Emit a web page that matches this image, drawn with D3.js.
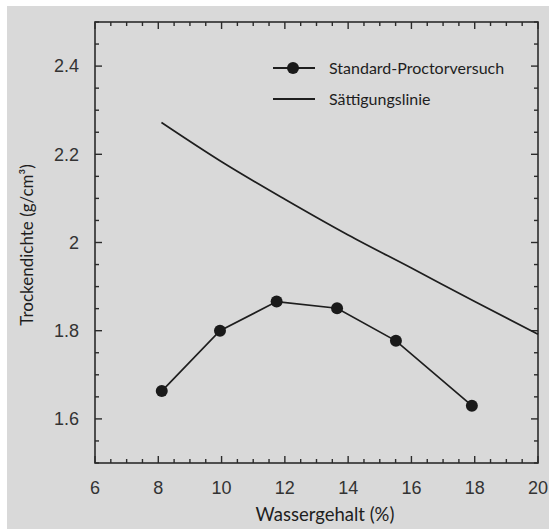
<!DOCTYPE html>
<html>
<head>
<meta charset="utf-8">
<script src="https://cdn.jsdelivr.net/npm/d3@7"></script>
<style>
  body { margin: 0; background: #fff; }
  svg { display: block; }
</style>
</head>
<body>
<div class="chart"></div>
<script>
// Standard-Proctorversuch (Wassergehalt %, Trockendichte g/cm3)
const proctorW = [8.11, 9.95, 11.74, 13.65, 15.51, 17.91];
const proctorRho = [1.663, 1.800, 1.866, 1.851, 1.777, 1.630];

// Sättigungslinie
const satW = [8.1, 10, 12, 14, 16, 18, 20];
const satRho = [2.272, 2.183, 2.098, 2.017, 1.942, 1.866, 1.792];

const xTicks = [6, 8, 10, 12, 14, 16, 18, 20];
const yTicks = [1.6, 1.8, 2, 2.2, 2.4];

const W = 549, H = 529;
const margin = {top: 22, left: 95, right: 11, bottom: 66};

const svg = d3.select('.chart').append('svg')
  .attr('width', W).attr('height', H);

// grey panel with the thin white strip at top and left
svg.append('rect')
  .attr('x', 7).attr('y', 6)
  .attr('width', W - 7).attr('height', H - 6)
  .attr('fill', '#d9d9d9');

const x = d3.scaleLinear().domain([6, 20]).range([margin.left, W - margin.right]);
const y = d3.scaleLinear().domain([1.5, 2.5]).range([H - margin.bottom, margin.top]);

const ink = '#2b2b2b';

// minor + major ticks, all inward
const xMinor = d3.range(6, 20.01, 0.5);
const yMinor = d3.range(1.5, 2.501, 0.05);
const isMajorX = v => Math.abs(v / 2 - Math.round(v / 2)) < 1e-6;
const isMajorY = v => Math.abs(v * 5 - Math.round(v * 5)) < 1e-6;

const tickG = svg.append('g').attr('stroke', ink).attr('stroke-width', 1.4);
xMinor.forEach(v => {
  const len = isMajorX(v) ? 7 : 4;
  tickG.append('line').attr('x1', x(v)).attr('x2', x(v))
    .attr('y1', y(1.5)).attr('y2', y(1.5) - len);
  tickG.append('line').attr('x1', x(v)).attr('x2', x(v))
    .attr('y1', y(2.5)).attr('y2', y(2.5) + len);
});
yMinor.forEach(v => {
  const len = isMajorY(v) ? 7 : 4;
  tickG.append('line').attr('y1', y(v)).attr('y2', y(v))
    .attr('x1', x(6)).attr('x2', x(6) + len);
  tickG.append('line').attr('y1', y(v)).attr('y2', y(v))
    .attr('x1', x(20)).attr('x2', x(20) - len);
});

// frame
svg.append('rect')
  .attr('x', x(6)).attr('y', y(2.5))
  .attr('width', x(20) - x(6)).attr('height', y(1.5) - y(2.5))
  .attr('fill', 'none').attr('stroke', ink).attr('stroke-width', 1.6);

// tick labels
svg.append('g').selectAll('text')
  .data(xTicks).join('text')
  .attr('x', d => x(d)).attr('y', y(1.5) + 25)
  .attr('dy', '0.35em')
  .attr('text-anchor', 'middle')
  .attr('font-family', 'Liberation Sans, Arial, sans-serif')
  .attr('font-size', 18).attr('fill', '#333')
  .text(d => d);

svg.append('g').selectAll('text')
  .data(yTicks).join('text')
  .attr('x', x(6) - 16).attr('y', d => y(d))
  .attr('dy', '0.35em')
  .attr('text-anchor', 'end')
  .attr('font-family', 'Liberation Sans, Arial, sans-serif')
  .attr('font-size', 18).attr('fill', '#333')
  .text(d => d);

// axis titles
svg.append('text')
  .attr('x', 325).attr('y', 515).attr('dy', '0.35em')
  .attr('text-anchor', 'middle')
  .attr('font-family', 'Lato, sans-serif').attr('font-size', 18.5)
  .attr('fill', '#1e1e1e')
  .text('Wassergehalt (%)');

svg.append('text')
  .attr('transform', 'translate(27,245) rotate(-90)')
  .attr('dy', '0.35em')
  .attr('text-anchor', 'middle')
  .attr('font-family', 'Lato, sans-serif').attr('font-size', 17)
  .attr('fill', '#1e1e1e')
  .text('Trockendichte (g/cm³)');

// lines
const line = d3.line().x(d => x(d[0])).y(d => y(d[1]));

svg.append('path')
  .datum(d3.zip(satW, satRho))
  .attr('d', line.curve(d3.curveMonotoneX))
  .attr('fill', 'none').attr('stroke', '#1e1e1e').attr('stroke-width', 1.7);

const proctor = d3.zip(proctorW, proctorRho);
svg.append('path')
  .datum(proctor)
  .attr('d', d3.line().x(d => x(d[0])).y(d => y(d[1])))
  .attr('fill', 'none').attr('stroke', '#1e1e1e').attr('stroke-width', 1.7);

svg.append('g').selectAll('circle')
  .data(proctor).join('circle')
  .attr('cx', d => x(d[0])).attr('cy', d => y(d[1]))
  .attr('r', 6).attr('fill', '#1a1a1a');

// legend
const legend = svg.append('g').attr('font-family', 'Lato, sans-serif')
  .attr('font-size', 16).attr('fill', '#1e1e1e');
const legendItems = ['Standard-Proctorversuch', 'Sättigungslinie'];
legendItems.forEach((name, i) => {
  const ly = 68 + i * 31;
  legend.append('line')
    .attr('x1', 273).attr('x2', 315).attr('y1', ly).attr('y2', ly)
    .attr('stroke', '#1e1e1e').attr('stroke-width', 1.8);
  if (i === 0) {
    legend.append('circle').attr('cx', 293).attr('cy', ly).attr('r', 6)
      .attr('fill', '#1a1a1a');
  }
  legend.append('text').attr('x', 329).attr('y', ly).attr('dy', '0.35em')
    .text(name);
});
</script>
</body>
</html>
